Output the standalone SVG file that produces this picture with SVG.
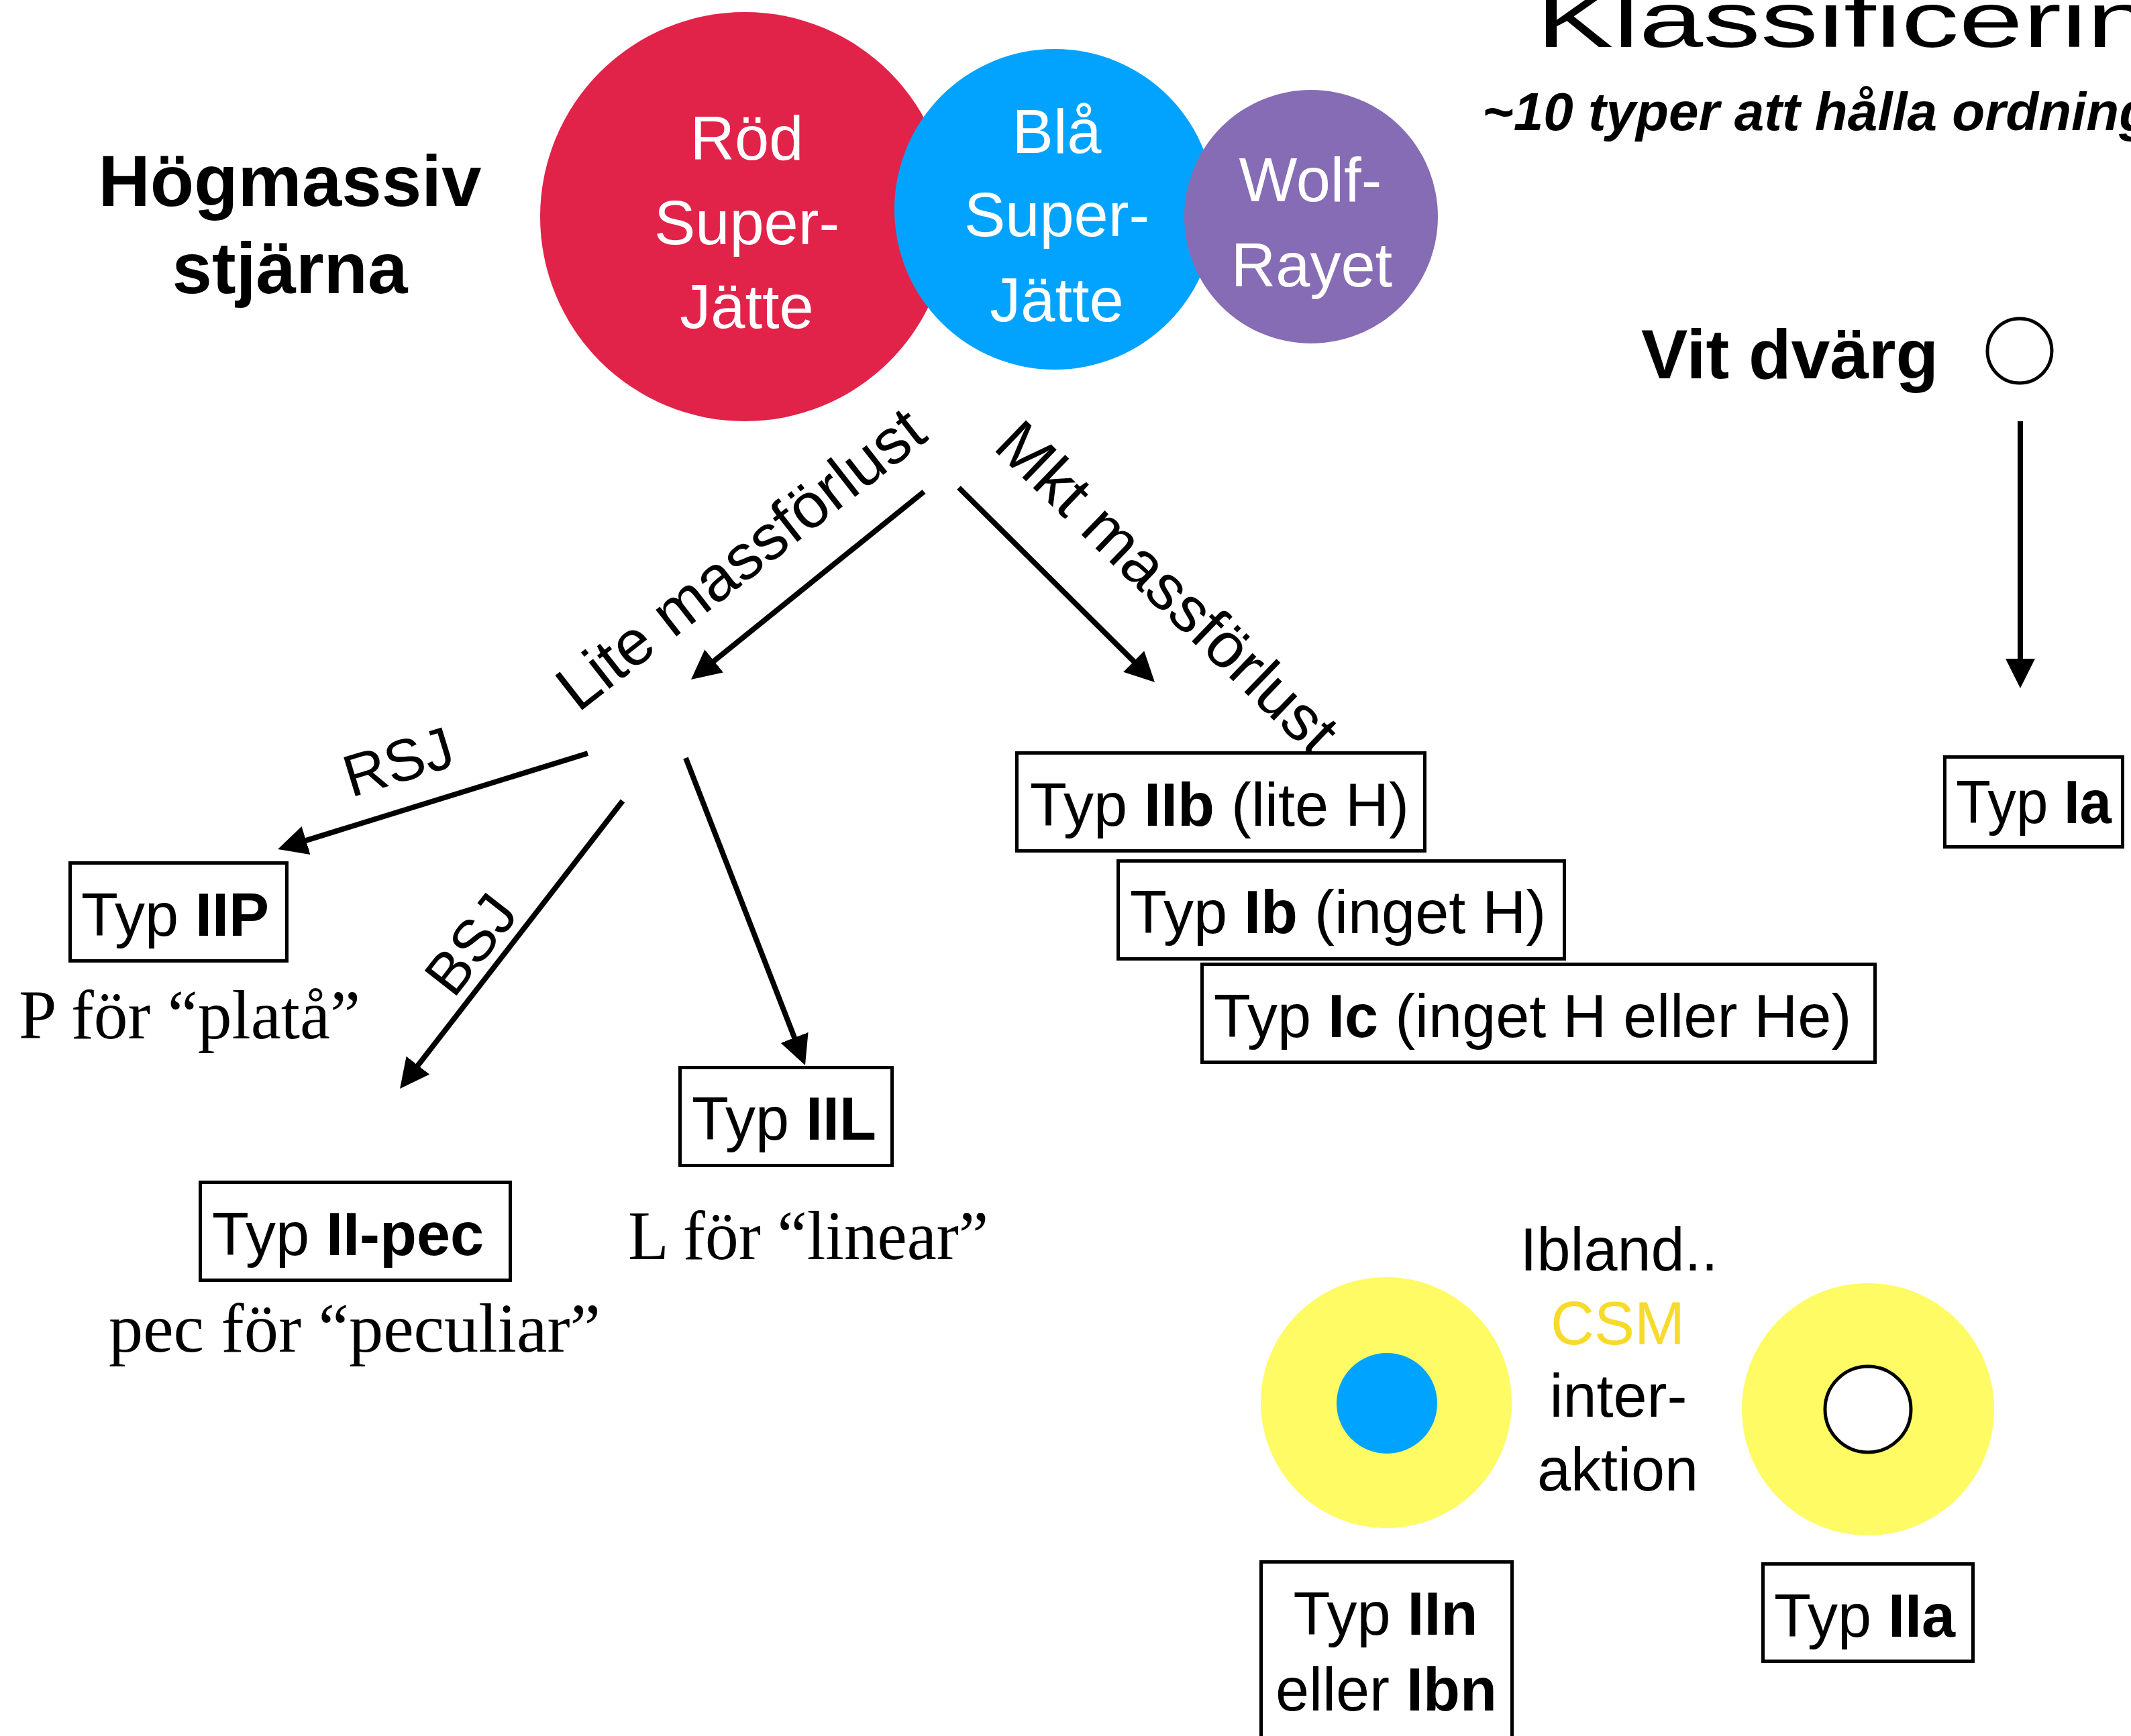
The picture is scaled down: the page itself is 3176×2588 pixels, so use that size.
<svg xmlns="http://www.w3.org/2000/svg" width="3176" height="2588" viewBox="0 0 3176 2588">
<defs>
<style>
.s{font-family:"Liberation Sans",Arial,sans-serif}
.b{font-weight:bold}
.lbl{font-size:90px}
.w{fill:#fff;font-size:92px;text-anchor:middle}
.ser{font-family:"Liberation Serif","Times New Roman",serif;font-size:104px}
.box{fill:#fff;stroke:#000;stroke-width:5}
.conn{stroke:#000;stroke-width:8;fill:none;marker-end:url(#ah)}
.rl{font-size:95px}
</style>
<marker id="ah" markerUnits="userSpaceOnUse" markerWidth="44" markerHeight="44" refX="14" refY="22" orient="auto" viewBox="0 0 44 44"><path d="M0,0 L44,22 L0,44 z" fill="#000"/></marker>
</defs>
<rect width="3176" height="2588" fill="#fff"/>

<g id="title">
<text class="s" font-size="116" transform="translate(2290,70) scale(1.48,1)">Klassificering</text>
<text class="s b" font-size="80" font-style="italic" x="2209" y="194">~10 typer att hålla ordning</text>
</g>

<g id="hogmassiv">
<text class="s b" font-size="107" text-anchor="middle" x="432" y="307">Högmassiv</text>
<text class="s b" font-size="107" text-anchor="middle" x="432" y="437">stjärna</text>
</g>

<g id="rsg">
<circle cx="1110" cy="323" r="305" fill="#E1234A"/>
<text class="s w" x="1113" y="238">Röd</text>
<text class="s w" x="1113" y="364">Super-</text>
<text class="s w" x="1113" y="489">Jätte</text>
</g>
<g id="bsg">
<circle cx="1572" cy="312" r="239" fill="#02A3FE"/>
<text class="s w" x="1575" y="228">Blå</text>
<text class="s w" x="1575" y="352">Super-</text>
<text class="s w" x="1575" y="479">Jätte</text>
</g>
<g id="wr">
<circle cx="1954" cy="323" r="189" fill="#856CB5"/>
<text class="s w" x="1953" y="300">Wolf-</text>
<text class="s w" x="1955" y="427">Rayet</text>
</g>

<g id="vitdvarg">
<text class="s b" font-size="104" x="2446" y="564">Vit dvärg</text>
<circle cx="3010" cy="523" r="48" fill="#fff" stroke="#000" stroke-width="5"/>
</g>

<g id="connectors">
<line class="conn" x1="1377" y1="733" x2="1053.3" y2="994.2"/>
<line class="conn" x1="1429" y1="727" x2="1699.7" y2="995.9"/>
<line class="conn" x1="876" y1="1123" x2="442.7" y2="1257.1"/>
<line class="conn" x1="928" y1="1194" x2="614.4" y2="1599.3"/>
<line class="conn" x1="1022" y1="1130" x2="1189.1" y2="1560"/>
<line class="conn" x1="3011" y1="628" x2="3011" y2="996"/>
<text class="s rl" transform="translate(861.5,1063.3) rotate(-38)">Lite massförlust</text>
<text class="s rl" transform="translate(1478,668) rotate(44)">Mkt massförlust</text>
<text class="s" font-size="88" transform="translate(523,1189) rotate(-17)">RSJ</text>
<text class="s" font-size="88" transform="translate(676,1490) rotate(-52)">BSJ</text>
</g>

<g id="typIIP">
<rect class="box" x="104.5" y="1286.5" width="323" height="146"/>
<text class="s lbl" x="121" y="1395">Typ <tspan class="b">IIP</tspan></text>
<text class="ser" x="28" y="1548" textLength="509" lengthAdjust="spacingAndGlyphs">P för “platå”</text>
</g>
<g id="typIIpec">
<rect class="box" x="298.5" y="1762.5" width="462" height="146"/>
<text class="s lbl" x="316" y="1871">Typ <tspan class="b">II-pec</tspan></text>
<text class="ser" x="162" y="2015" textLength="733" lengthAdjust="spacingAndGlyphs">pec för “peculiar”</text>
</g>
<g id="typIIL">
<rect class="box" x="1013.5" y="1591.5" width="316" height="146"/>
<text class="s lbl" x="1031" y="1699">Typ <tspan class="b">IIL</tspan></text>
<text class="ser" x="936" y="1877" textLength="537" lengthAdjust="spacingAndGlyphs">L för “linear”</text>
</g>
<g id="typIIb">
<rect class="box" x="1515.5" y="1122.5" width="608" height="146"/>
<text class="s lbl" x="1535" y="1231">Typ <tspan class="b">IIb</tspan> (lite H)</text>
</g>
<g id="typIb">
<rect class="box" x="1666.5" y="1283.5" width="665" height="146"/>
<text class="s lbl" x="1684" y="1391">Typ <tspan class="b">Ib</tspan> (inget H)</text>
</g>
<g id="typIc">
<rect class="box" x="1791.5" y="1437.5" width="1003" height="146"/>
<text class="s lbl" x="1809" y="1546">Typ <tspan class="b">Ic</tspan> (inget H eller He)</text>
</g>
<g id="typIa">
<rect class="box" x="2898.5" y="1128.5" width="265" height="134"/>
<text class="s lbl" x="2915" y="1227" textLength="232" lengthAdjust="spacingAndGlyphs">Typ <tspan class="b">Ia</tspan></text>
</g>

<g id="csm-left">
<circle cx="2066" cy="2091" r="187" fill="#FEFB64"/>
<circle cx="2067" cy="2092" r="75" fill="#00A3FF"/>
</g>
<g id="csm-text">
<text class="s lbl" text-anchor="middle" x="2413" y="1894">Ibland..</text>
<text class="s lbl" text-anchor="middle" x="2411" y="2004" fill="#F7DA2A">CSM</text>
<text class="s lbl" text-anchor="middle" x="2412" y="2112">inter-</text>
<text class="s lbl" text-anchor="middle" x="2411" y="2222">aktion</text>
</g>
<g id="csm-right">
<circle cx="2784" cy="2101" r="188" fill="#FEFB64"/>
<circle cx="2784" cy="2101" r="64" fill="#fff" stroke="#000" stroke-width="5"/>
</g>

<g id="typIIn">
<rect class="box" x="1879.5" y="2328.5" width="374" height="300"/>
<text class="s lbl" text-anchor="middle" x="2065" y="2437">Typ <tspan class="b">IIn</tspan></text>
<text class="s lbl" text-anchor="middle" x="2066" y="2550">eller <tspan class="b">Ibn</tspan></text>
</g>
<g id="typIIa">
<rect class="box" x="2627.5" y="2331.5" width="313" height="145"/>
<text class="s lbl" x="2644" y="2440">Typ <tspan class="b">IIa</tspan></text>
</g>
</svg>
